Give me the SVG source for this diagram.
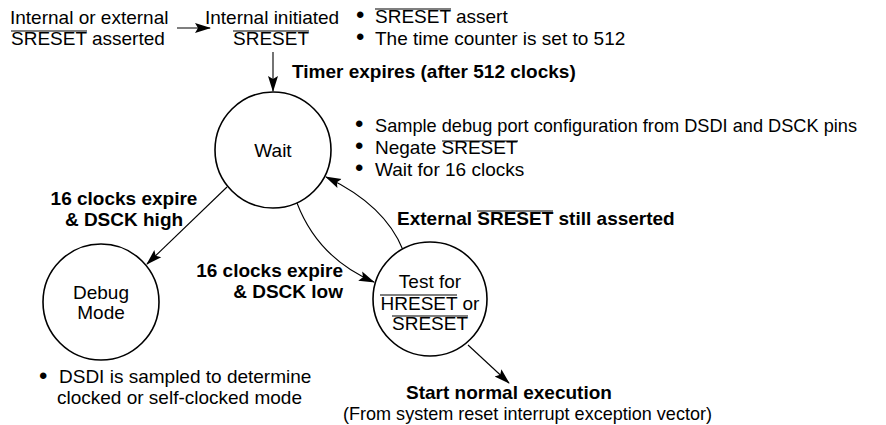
<svg xmlns="http://www.w3.org/2000/svg" width="886" height="425" viewBox="0 0 886 425">
<defs>
<style>
text{font-family:"Liberation Sans",Arial,Helvetica,sans-serif;font-size:19px;fill:#000}
.b{font-weight:bold}
.m{text-anchor:middle}
.e{text-anchor:end}
.bul{font-size:24px}
.ov{stroke:#000;stroke-width:1.2}
.node{fill:#fff;stroke:#000;stroke-width:1.6}
.c{fill:none;stroke:#000;stroke-width:1.1;marker-end:url(#ah)}
</style>
<marker id="ah" markerUnits="userSpaceOnUse" markerWidth="16" markerHeight="12" viewBox="0 0 16 12" refX="15" refY="6" orient="auto">
<path d="M0,1 L16,6 L0,11 L3,6 Z" fill="#000"/>
</marker>
</defs>
<rect width="886" height="425" fill="#fff"/>

<g id="connectors">
<path class="c" d="M177,28 L210,28"/>
<path class="c" d="M273,52 L273,91"/>
<path class="c" d="M227,187 L147,264"/>
<path class="c" d="M297,203 Q318,258 374,282"/>
<path class="c" d="M403,250 Q385,205 326,177"/>
<path class="c" d="M468,345 L509,383"/>
</g>

<g id="start-label">
<text x="10" y="24">Internal or external</text>
<text x="11" y="45">SRESET asserted</text>
<line class="ov" x1="11" y1="31" x2="87" y2="31"/>
</g>

<g id="internal-sreset">
<text x="205" y="24">Internal initiated</text>
<text x="233" y="45">SRESET</text>
<line class="ov" x1="233" y1="31" x2="309" y2="31"/>
</g>

<g id="notes-top">
<text class="bul" x="356" y="23">•</text>
<text x="375" y="23">SRESET assert</text>
<line class="ov" x1="375" y1="9" x2="451" y2="9"/>
<text class="bul" x="356" y="45">•</text>
<text x="375" y="45">The time counter is set to 512</text>
</g>

<text class="b" x="292" y="78">Timer expires (after 512 clocks)</text>

<g id="wait">
<circle class="node" cx="273" cy="150" r="58"/>
<text class="m" x="273" y="157">Wait</text>
</g>

<g id="notes-wait">
<text class="bul" x="355" y="132">•</text>
<text x="375" y="132" textLength="482" lengthAdjust="spacingAndGlyphs">Sample debug port configuration from DSDI and DSCK pins</text>
<text class="bul" x="355" y="154">•</text>
<text x="375" y="154">Negate SRESET</text>
<line class="ov" x1="442" y1="141" x2="518" y2="141"/>
<text class="bul" x="355" y="176">•</text>
<text x="375" y="176">Wait for 16 clocks</text>
</g>

<text class="b m" x="124" y="205">16 clocks expire</text>
<text class="b m" x="124" y="226">&amp; DSCK high</text>

<text class="b" x="397" y="225">External SRESET still asserted</text>
<line class="ov" x1="477" y1="211" x2="553" y2="211" stroke-width="1.5"/>

<text class="b e" x="343" y="277">16 clocks expire</text>
<text class="b e" x="343" y="298">&amp; DSCK low</text>

<g id="debug">
<circle class="node" cx="101" cy="302" r="58"/>
<text class="m" x="101" y="299">Debug</text>
<text class="m" x="101" y="319">Mode</text>
</g>

<g id="test">
<circle class="node" cx="430" cy="299" r="57"/>
<text class="m" x="430" y="288">Test for</text>
<text class="m" x="430" y="310">HRESET or</text>
<line class="ov" x1="380" y1="295" x2="457" y2="295"/>
<text class="m" x="430" y="330">SRESET</text>
<line class="ov" x1="392" y1="316" x2="468" y2="316"/>
</g>

<g id="notes-debug">
<text class="bul" x="39" y="384">•</text>
<text x="59" y="383">DSDI is sampled to determine</text>
<text x="57" y="404">clocked or self-clocked mode</text>
</g>

<g id="start-normal">
<text class="b" x="406" y="399">Start normal execution</text>
<text x="343" y="420" textLength="369" lengthAdjust="spacingAndGlyphs">(From system reset interrupt exception vector)</text>
</g>
</svg>
